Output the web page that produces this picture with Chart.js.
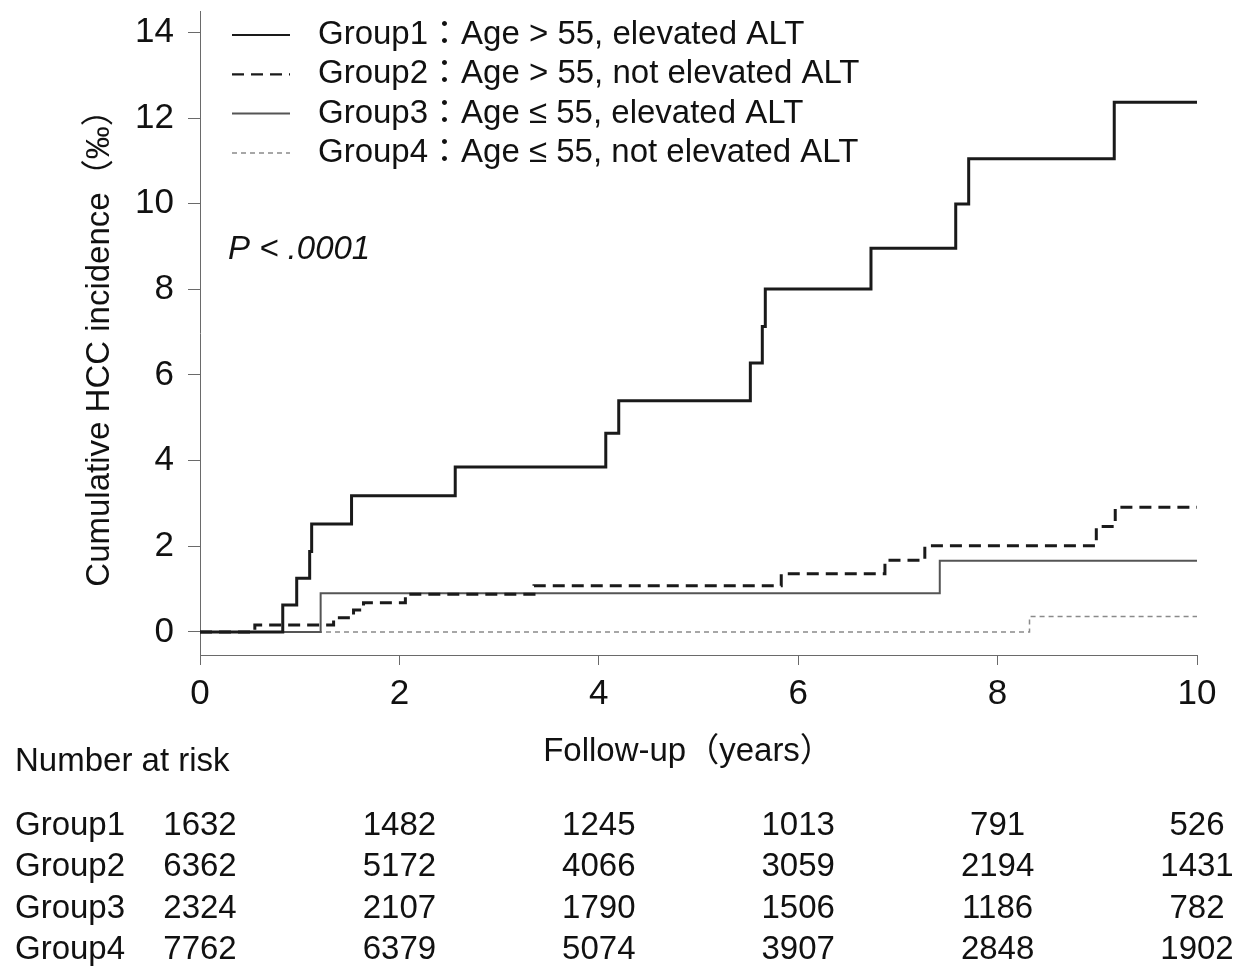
<!DOCTYPE html>
<html>
<head>
<meta charset="utf-8">
<script src="https://cdn.jsdelivr.net/npm/chart.js@4.4.1/dist/chart.umd.min.js"></script>
<style>
  html, body { margin: 0; padding: 0; background: #ffffff; }
  #wrap { width: 1238px; height: 971px; }
</style>
</head>
<body>
<div id="wrap"><canvas id="km" width="1238" height="971"></canvas></div>
<script>
// Kaplan-Meier style cumulative incidence, per group: (years, per-mille)
const groupNames = ['Group1', 'Group2', 'Group3', 'Group4'];
const groupLabels = [
  'Group1：Age > 55, elevated ALT',
  'Group2：Age > 55, not elevated ALT',
  'Group3：Age ≤ 55, elevated ALT',
  'Group4：Age ≤ 55, not elevated ALT'
];

const g1Years     = [0, 0.83, 0.97, 1.10, 1.12, 1.52, 2.56, 4.07, 4.20, 5.52, 5.64, 5.67, 6.73, 7.58, 7.71, 9.17, 10];
const g1Incidence = [0, 0.63, 1.25, 1.88, 2.52, 3.18, 3.85, 4.64, 5.40, 6.28, 7.13, 8.01, 8.96, 9.99, 11.05, 12.37, 12.37];

const g2Years     = [0, 0.55, 1.34, 1.54, 1.64, 2.06, 3.35, 5.83, 6.87, 7.27, 8.99, 9.18, 10];
const g2Incidence = [0, 0.16, 0.33, 0.51, 0.68, 0.88, 1.08, 1.36, 1.67, 2.01, 2.46, 2.91, 2.91];

const g3Years     = [0, 1.21, 7.42, 10];
const g3Incidence = [0, 0.90, 1.66, 1.66];

const g4Years     = [0, 8.32, 10];
const g4Incidence = [0, 0.36, 0.36];

// Number at risk table
const riskYears = [0, 2, 4, 6, 8, 10];
const risk1 = [1632, 1482, 1245, 1013, 791, 526];
const risk2 = [6362, 5172, 4066, 3059, 2194, 1431];
const risk3 = [2324, 2107, 1790, 1506, 1186, 782];
const risk4 = [7762, 6379, 5074, 3907, 2848, 1902];

const xTickValues = [0, 2, 4, 6, 8, 10];
const yTickValues = [0, 2, 4, 6, 8, 10, 12, 14];

const yTitle = 'Cumulative HCC incidence（‰）';
const xTitle = 'Follow-up（years）';
const pText = 'P < .0001';
const riskTitle = 'Number at risk';

const FONT = "'Liberation Sans', Arial, 'Noto Sans CJK TC', sans-serif";
const TEXT = '#111111';
const AXIS = '#6a6a6a';
const TEXT_SIZE = 33;
const TICK_SIZE = 35;

function toPoints(xs, ys) { return xs.map((x, i) => ({ x: x, y: ys[i] })); }

// each step holds its value until the next event time
const datasets = [
  { label: groupLabels[0], data: toPoints(g1Years, g1Incidence), borderColor: '#1a1a1a', borderWidth: 3, borderDash: [] },
  { label: groupLabels[1], data: toPoints(g2Years, g2Incidence), borderColor: '#1a1a1a', borderWidth: 3, borderDash: [12, 7] },
  { label: groupLabels[2], data: toPoints(g3Years, g3Incidence), borderColor: '#555555', borderWidth: 2, borderDash: [] },
  { label: groupLabels[3], data: toPoints(g4Years, g4Incidence), borderColor: '#8a8a8a', borderWidth: 1.5, borderDash: [5, 4] }
].map(d => Object.assign(d, { stepped: 'before', pointRadius: 0, fill: false, tension: 0 }));

const riskRows = [risk1, risk2, risk3, risk4];

// Legend, annotation, axis titles and risk table
const decorations = {
  id: 'kmDecor',
  afterDraw(chart) {
    const ctx = chart.ctx;
    const area = chart.chartArea;
    const xs = chart.scales.x;
    ctx.save();
    ctx.font = TEXT_SIZE + 'px ' + FONT;
    ctx.fillStyle = TEXT;
    ctx.textBaseline = 'middle';

    // legend
    const legX0 = area.left + 32, legX1 = area.left + 90, legText = area.left + 118;
    chart.data.datasets.forEach((ds, i) => {
      const y = 35 + i * 39.3;
      ctx.save();
      ctx.strokeStyle = ds.borderColor;
      ctx.lineWidth = Math.min(ds.borderWidth, 2.2);
      ctx.setLineDash(ds.borderDash || []);
      ctx.beginPath();
      ctx.moveTo(legX0, y);
      ctx.lineTo(legX1, y);
      ctx.stroke();
      ctx.restore();
      ctx.textAlign = 'left';
      ctx.fillText(ds.label, legText, y);
    });

    // p-value
    ctx.font = 'italic ' + TEXT_SIZE + 'px ' + FONT;
    ctx.textAlign = 'left';
    ctx.fillText(pText, area.left + 28, 250);

    // y title
    ctx.font = TEXT_SIZE + 'px ' + FONT;
    ctx.save();
    ctx.translate(100, 340);
    ctx.rotate(-Math.PI / 2);
    ctx.textAlign = 'center';
    ctx.fillText(yTitle, 0, 0);
    ctx.restore();

    // x title
    ctx.textAlign = 'center';
    ctx.fillText(xTitle, 688, 752);

    // number at risk
    ctx.textAlign = 'left';
    ctx.fillText(riskTitle, 15, 762);
    riskRows.forEach((row, r) => {
      const y = 826 + r * 41.3;
      ctx.textAlign = 'left';
      ctx.fillText(groupNames[r], 15, y);
      ctx.textAlign = 'center';
      row.forEach((n, c) => {
        ctx.fillText(String(n), xs.getPixelForValue(riskYears[c]), y);
      });
    });
    ctx.restore();
  }
};

new Chart(document.getElementById('km'), {
  type: 'line',
  data: { datasets: datasets },
  options: {
    responsive: false,
    animation: false,
    devicePixelRatio: 1,
    layout: { padding: { top: 11, right: 41, left: 0, bottom: 0 } },
    plugins: { legend: { display: false }, tooltip: { enabled: false } },
    scales: {
      x: {
        type: 'linear',
        min: 0, max: 10,
        afterBuildTicks: s => { s.ticks = xTickValues.map(v => ({ value: v })); },
        afterFit: s => { s.height = 971 - 655; s.paddingLeft = 0; s.paddingRight = 0; },
        grid: { drawOnChartArea: false, drawTicks: true, tickLength: 10, color: AXIS, lineWidth: 1 },
        border: { display: true, color: AXIS, width: 1 },
        ticks: { font: { family: FONT, size: TICK_SIZE }, color: TEXT, padding: 8, maxRotation: 0 }
      },
      y: {
        type: 'linear',
        min: -0.54, max: 14.5,
        afterBuildTicks: s => { s.ticks = yTickValues.map(v => ({ value: v })); },
        afterFit: s => { s.width = 200; s.paddingTop = 0; s.paddingBottom = 0; },
        grid: { drawOnChartArea: false, drawTicks: true, tickLength: 12, color: AXIS, lineWidth: 1 },
        border: { display: true, color: AXIS, width: 1 },
        ticks: { font: { family: FONT, size: TICK_SIZE }, color: TEXT, padding: 14 }
      }
    }
  },
  plugins: [decorations]
});
</script>
</body>
</html>
